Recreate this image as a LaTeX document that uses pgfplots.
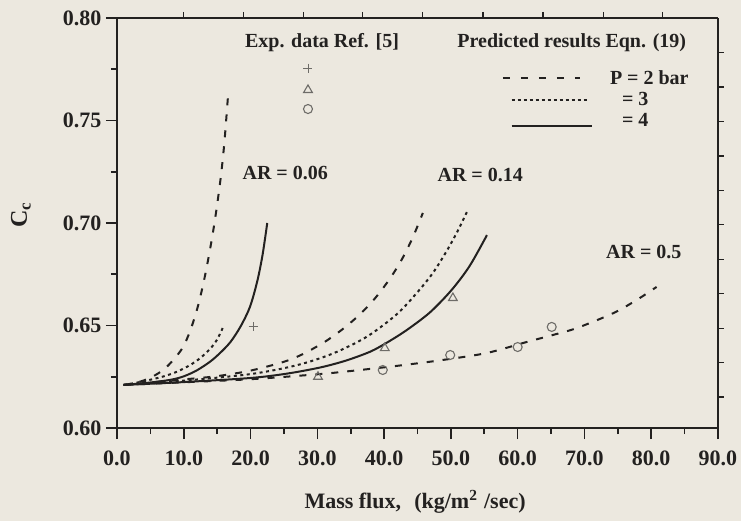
\documentclass[border=0pt]{standalone}
\usepackage{pgfplots}
\pgfplotsset{compat=1.18}
\usepackage{fontspec}
\setmainfont{Liberation Serif}
\definecolor{paper}{RGB}{236,232,223}
\definecolor{ink}{RGB}{35,33,32}
\definecolor{mk}{RGB}{110,108,104}
\begin{document}
\begin{tikzpicture}
\useasboundingbox (-117bp,-93bp) rectangle (624bp,428bp);
\fill[paper] (-117bp,-93bp) rectangle (624bp,428bp);
\begin{axis}[
  at={(0,0)}, anchor=south west, scale only axis,
  width=601bp, height=410bp,
  xmin=0, xmax=90, ymin=0.60, ymax=0.80,
  axis x line*=bottom, axis y line*=left,
  axis line style={ink, line width=2bp},
  xtick={0,10,...,90}, ytick={0.60,0.65,...,0.801},
  minor x tick num=1, minor y tick num=1,
  tick align=outside,
  major tick length=11bp, minor tick length=6bp,
  every tick/.style={ink, line width=1.6bp},
  tick label style={font=\fontsize{22bp}{26bp}\selectfont\bfseries, text=ink},
  xticklabel style={yshift=-8bp},
  yticklabel style={xshift=-1bp},
  /pgf/number format/assume math mode=true,
  xticklabel style={/pgf/number format/.cd,fixed,fixed zerofill,precision=1},
  yticklabel style={/pgf/number format/.cd,fixed,fixed zerofill,precision=2},
  xlabel={Mass flux,\hspace{0.6em}(kg/m\textsuperscript{2}\hspace{0.3em}/sec)},
  ylabel={C\textsubscript{c}},
  xlabel style={font=\fontsize{22bp}{26bp}\selectfont\bfseries, text=ink, at={(axis description cs:0.496,-0.18)}, anchor=center},
  ylabel style={font=\fontsize{24bp}{28bp}\selectfont\bfseries, text=ink, at={(axis description cs:-0.16,0.52)}, anchor=center},
  clip=false,
]
% AR = 0.06
\addplot[ink, line width=2bp, dash pattern=on 7bp off 9bp, smooth, tension=0.5] coordinates {
 (1,0.621) (3,0.6222) (5,0.6245) (7,0.6285) (8.5,0.6335) (9.9,0.6395) (11,0.6478) (12,0.658) (12.9,0.670) (13.7,0.683) (14.4,0.696) (15.0,0.709) (15.6,0.724) (16.1,0.740) (16.6,0.761)};
\addplot[ink, line width=2bp, dash pattern=on 3bp off 3.5bp, smooth, tension=0.5] coordinates {
 (1,0.621) (4,0.6228) (7,0.6252) (9,0.6275) (11,0.6308) (12.5,0.6342) (14,0.6388) (15,0.6432) (15.9,0.6493)};
\addplot[ink, line width=2bp, smooth, tension=0.5] coordinates {
 (1,0.621) (5,0.6222) (8,0.6235) (10,0.6252) (12,0.6282) (14,0.6325) (15.5,0.6368) (17,0.6420) (18.5,0.6495) (19.9,0.659) (21,0.6715) (21.8,0.6845) (22.5,0.700)};
% AR = 0.14
\addplot[ink, line width=2bp, dash pattern=on 7bp off 9bp, smooth, tension=0.5] coordinates {
 (1,0.621) (10,0.6237) (15,0.6253) (20,0.628) (24.9,0.6322) (27.8,0.636) (31.1,0.642) (33.9,0.6485) (36.4,0.6555) (38.7,0.6635) (40.9,0.673) (42.7,0.6825) (44.3,0.693) (45.8,0.7049)};
\addplot[ink, line width=2bp, dash pattern=on 3bp off 3.5bp, smooth, tension=0.5] coordinates {
 (1,0.621) (10,0.6231) (20,0.6263) (26.9,0.6306) (32.3,0.6363) (37.4,0.6445) (41.9,0.6555) (44.9,0.6659) (47.3,0.6756) (49.4,0.6865) (51.0,0.696) (52.4,0.7054)};
\addplot[ink, line width=2bp, smooth, tension=0.5] coordinates {
 (1,0.621) (10,0.6224) (20,0.6244) (25.4,0.6265) (30.4,0.6295) (34.2,0.6328) (37.9,0.6372) (40.5,0.6418) (43.4,0.6478) (46.9,0.6565) (50.1,0.6673) (52.8,0.679) (55.4,0.6941)};
% AR = 0.5
\addplot[ink, line width=2bp, dash pattern=on 7bp off 9bp, smooth, tension=0.5] coordinates {
 (1,0.621) (10,0.6223) (20,0.6238) (30,0.6262) (35,0.6278) (42.4,0.6305) (48.8,0.6332) (55.4,0.6366) (61.4,0.642) (65.3,0.6454) (68.9,0.6488) (74.3,0.656) (77.8,0.6624) (80.8,0.6688)};
% experimental data
\addplot[mk, only marks, mark=+, mark size=4.5bp, line width=0.9bp] coordinates {(20.4,0.6493) (28.6,0.7756)};
\addplot[mk, only marks, mark=triangle, mark size=5bp, line width=1.1bp] coordinates {(30.1,0.625) (40.1,0.639) (50.3,0.6634) (28.6,0.7649)};
\addplot[mk, only marks, mark=o, mark size=4.5bp, line width=1.1bp] coordinates {(39.8,0.6283) (49.9,0.6356) (60.0,0.6395) (65.1,0.6493) (28.6,0.7556)};
% legend samples
\addplot[ink, line width=2bp, dash pattern=on 7bp off 11bp] coordinates {(57.8,0.7707) (69.3,0.7707)};
\addplot[ink, line width=1.6bp, dash pattern=on 3bp off 3bp] coordinates {(59.1,0.7600) (70.5,0.7600)};
\addplot[ink, line width=1.6bp] coordinates {(59.1,0.7473) (71.1,0.7473)};
% texts
\begin{scope}[every node/.style={font=\fontsize{20bp}{24bp}\selectfont\bfseries, text=ink, inner sep=0pt}]
\node at (axis cs:30.7,0.7878) {Exp. data Ref. [5]};
\node at (axis cs:68.1,0.7878) {Predicted results Eqn. (19)};
\node[anchor=west] at (axis cs:73.8,0.7707) {P = 2 bar};
\node[anchor=west] at (axis cs:75.6,0.7605) {= 3};
\node[anchor=west] at (axis cs:75.6,0.7502) {= 4};
\node at (axis cs:25.2,0.7244) {AR = 0.06};
\node at (axis cs:54.4,0.7234) {AR = 0.14};
\node at (axis cs:78.9,0.6859) {AR = 0.5};
\end{scope}
\end{axis}
\begin{axis}[
  at={(0,0)}, anchor=south west, scale only axis,
  width=601bp, height=410bp,
  xmin=0, xmax=90, ymin=0.60, ymax=0.80,
  axis x line*=top, axis y line*=right,
  axis line style={ink, line width=1.3bp},
  xtick={9.9,18.9,27.9,36.8,45.8,54.8,63.8,72.8,81.7},
  ytick={0.6151,0.6319,0.6487,0.6655,0.6823,0.6991,0.7159,0.7327,0.7495,0.7663,0.7831},
  xticklabels={}, yticklabels={},
  tick align=outside, major tick length=6bp,
  every tick/.style={ink, line width=1.2bp},
]
\end{axis}
\end{tikzpicture}
\end{document}
